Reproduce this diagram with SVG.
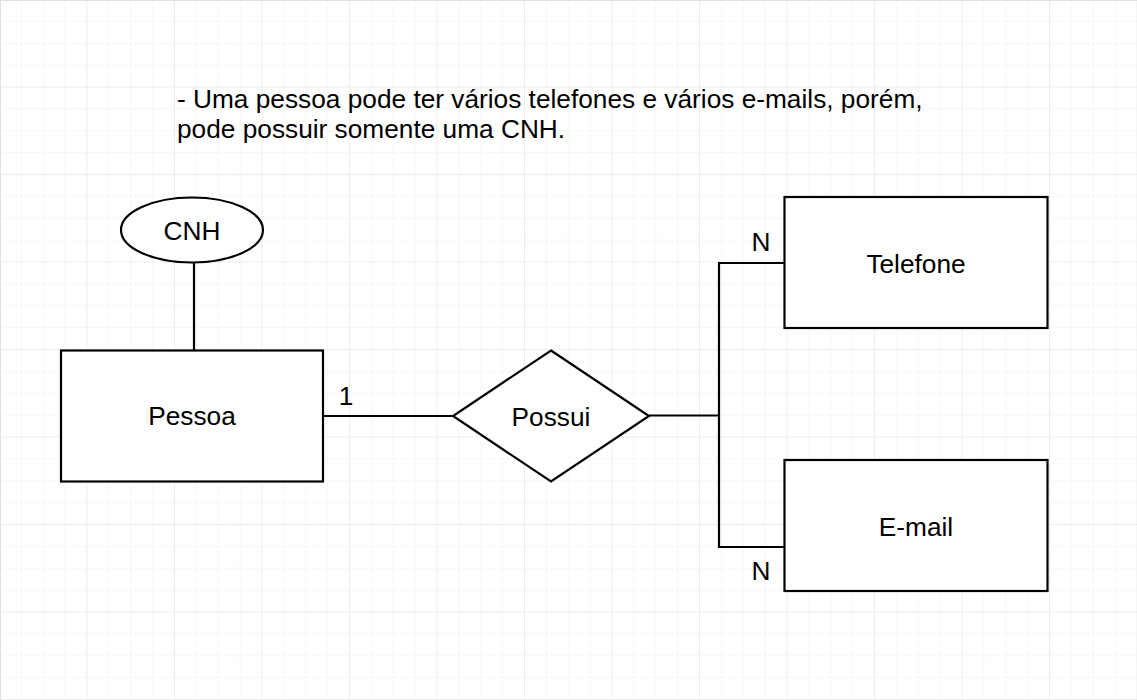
<svg xmlns="http://www.w3.org/2000/svg" width="1137" height="700" viewBox="0 0 1137 700">
  <defs>
    <pattern id="minor" width="21.875" height="21.875" patternUnits="userSpaceOnUse">
      <path d="M21.875 0 V21.875 M0 21.875 H21.875" stroke="#f0f0f0" stroke-width="1" fill="none"/>
    </pattern>
    <pattern id="major" width="87.5" height="87.5" patternUnits="userSpaceOnUse">
      <rect width="87.5" height="87.5" fill="url(#minor)"/>
      <path d="M87.5 0 V87.5 M0 87.5 H87.5" stroke="#e0e0e0" stroke-width="1" fill="none"/>
    </pattern>
    <style>
      .shape { fill: #ffffff; stroke: #000000; stroke-width: 2.2; }
      .edge { fill: none; stroke: #000000; stroke-width: 2.2; }
      .lbl { font-family: "Liberation Sans", Arial, sans-serif; font-size: 26.25px; fill: #000000; }
      .mid { text-anchor: middle; }
    </style>
  </defs>
  <rect width="1137" height="700" fill="#ffffff"/>
  <rect width="1137" height="700" fill="url(#major)"/>
  <path d="M0 0.5 H1137 M0.5 0 V700" stroke="#e0e0e0" stroke-width="1"/>

  <g id="note">
    <text class="lbl" x="177" y="108">- Uma pessoa pode ter vários telefones e vários e-mails, porém,</text>
    <text class="lbl" x="177" y="138">pode possuir somente uma CNH.</text>
  </g>

  <g id="connectors">
    <path class="edge" d="M194 262.5 V350"/>
    <path class="edge" d="M323 416 H453"/>
    <path class="edge" d="M649 415.5 H719"/>
    <path class="edge" d="M719 263 H784 M719 547 H784 M719 262 V548"/>
  </g>

  <g id="cnh">
    <ellipse class="shape" cx="192" cy="230" rx="71" ry="32.5"/>
    <text class="lbl mid" x="192" y="240">CNH</text>
  </g>

  <g id="pessoa">
    <rect class="shape" x="61" y="350.5" width="262" height="131"/>
    <text class="lbl mid" x="192" y="425">Pessoa</text>
  </g>

  <g id="possui">
    <polygon class="shape" points="551,350.5 649,416 551,481.5 453,416"/>
    <text class="lbl mid" x="551" y="426">Possui</text>
  </g>

  <g id="telefone">
    <rect class="shape" x="784.5" y="197" width="263" height="131"/>
    <text class="lbl mid" x="916" y="273">Telefone</text>
  </g>

  <g id="email">
    <rect class="shape" x="784.5" y="460" width="263" height="131"/>
    <text class="lbl mid" x="916" y="536">E-mail</text>
  </g>

  <g id="cardinalities">
    <text class="lbl mid" x="346" y="405">1</text>
    <text class="lbl mid" x="761" y="251">N</text>
    <text class="lbl mid" x="761" y="580">N</text>
  </g>
</svg>
